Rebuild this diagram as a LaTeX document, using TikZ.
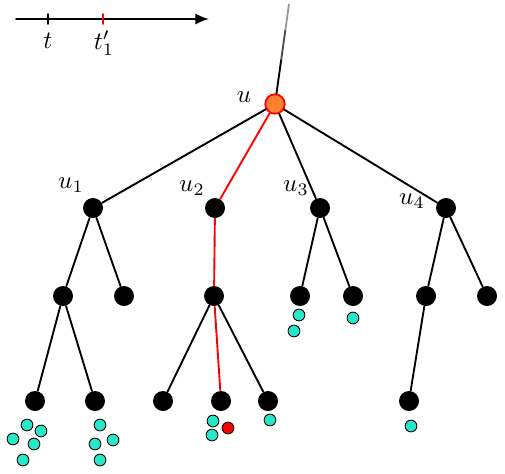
\documentclass[tikz,border=0pt]{standalone}
\usepackage{amsmath,amssymb}
\usepackage{xcolor}
\usetikzlibrary{arrows.meta}

\definecolor{rootorange}{RGB}{255,128,48}
\definecolor{leafcyan}{RGB}{40,230,200}

\begin{document}
\begin{tikzpicture}[
    x=0.4pt, y=-0.4pt, % one unit = one pixel of the reference
    line cap=round,
    vertex/.style={circle, fill=black, inner sep=0pt, minimum size=8pt},
    root/.style={circle, fill=rootorange, draw=red, line width=0.7pt, inner sep=0pt, minimum size=7.8pt},
    item/.style={circle, fill=leafcyan, draw=black, line width=0.35pt, inner sep=0pt, minimum size=4.7pt},
    hit/.style={circle, fill=red, draw=black, line width=0.35pt, inner sep=0pt, minimum size=4.7pt},
    edge/.style={line width=0.75pt},
    path/.style={edge, red}
]
  \useasboundingbox (0,0) rectangle (505,473);

  % Time axis
  \coordinate (ax0) at (16,19);
  \coordinate (ax1) at (209,19);
  \draw[line width=0.75pt, -{Latex[length=5.5pt,width=4.5pt]}] (ax0) -- (ax1);
  \draw[line width=0.75pt] (48,14) -- (48,24);
  \draw[line width=0.75pt, red] (103,14) -- (103,24);
  \node (tlab) at (48,41) {$t$};
  \node (tplab) at (104,43) {$t'_1$};

  % Root and its parent edge (fading upwards)
  \coordinate (up) at (289,4);
  \coordinate (upa) at (281.16,60);
  \coordinate (upb) at (285.36,30);
  \node[root] (u) at (275,104) {};
  \node (ulab) at (244,97) {$u$};
  \draw[edge] (u) -- (upa);
  \draw[edge, black!70, line cap=butt] (upa) -- (upb);
  \draw[edge, black!40, line cap=butt] (upb) -- (up);

  % Level 1
  \node[vertex] (u1) at (93,208) {};
  \node[vertex] (u2) at (215,208) {};
  \node[vertex] (u3) at (320,208) {};
  \node[vertex] (u4) at (446,208) {};
  \node (u1lab) at (71,185) {$u_1$};
  \node (u2lab) at (192,188) {$u_2$};
  \node (u3lab) at (296,188) {$u_3$};
  \node (u4lab) at (412,201) {$u_4$};

  % Level 2
  \node[vertex] (a1) at (63,296) {};
  \node[vertex] (a2) at (124,296) {};
  \node[vertex] (b1) at (214,296) {};
  \node[vertex] (c1) at (300,296) {};
  \node[vertex] (c2) at (353,296) {};
  \node[vertex] (d1) at (426,296) {};
  \node[vertex] (d2) at (487,296) {};

  % Level 3
  \node[vertex] (a11) at (35,401) {};
  \node[vertex] (a12) at (95,401) {};
  \node[vertex] (b11) at (163,401) {};
  \node[vertex] (b12) at (221,401) {};
  \node[vertex] (b13) at (268,401) {};
  \node[vertex] (d11) at (409,401) {};

  % Edges
  \draw[edge] (u) -- (u1);
  \draw[path] (u) -- (u2);
  \draw[edge] (u) -- (u3);
  \draw[edge] (u) -- (u4);
  \draw[edge] (u1) -- (a1);
  \draw[edge] (u1) -- (a2);
  \draw[path] (u2) -- (b1);
  \draw[edge] (u3) -- (c1);
  \draw[edge] (u3) -- (c2);
  \draw[edge] (u4) -- (d1);
  \draw[edge] (u4) -- (d2);
  \draw[edge] (a1) -- (a11);
  \draw[edge] (a1) -- (a12);
  \draw[edge] (b1) -- (b11);
  \draw[path] (b1) -- (b12);
  \draw[edge] (b1) -- (b13);
  \draw[edge] (d1) -- (d11);

  % Items stored at the nodes
  \foreach \x/\y [count=\i] in {27/425, 41/431, 13/439, 34/444, 23/460,
                                100/425, 113/440, 95/444, 100/460,
                                213/421, 212/435, 270/420,
                                299/315, 294/331, 353/318, 411/426}
    \node[item] (it\i) at (\x,\y) {};
  \node[hit] (itr) at (228,428) {};
\end{tikzpicture}
\end{document}
